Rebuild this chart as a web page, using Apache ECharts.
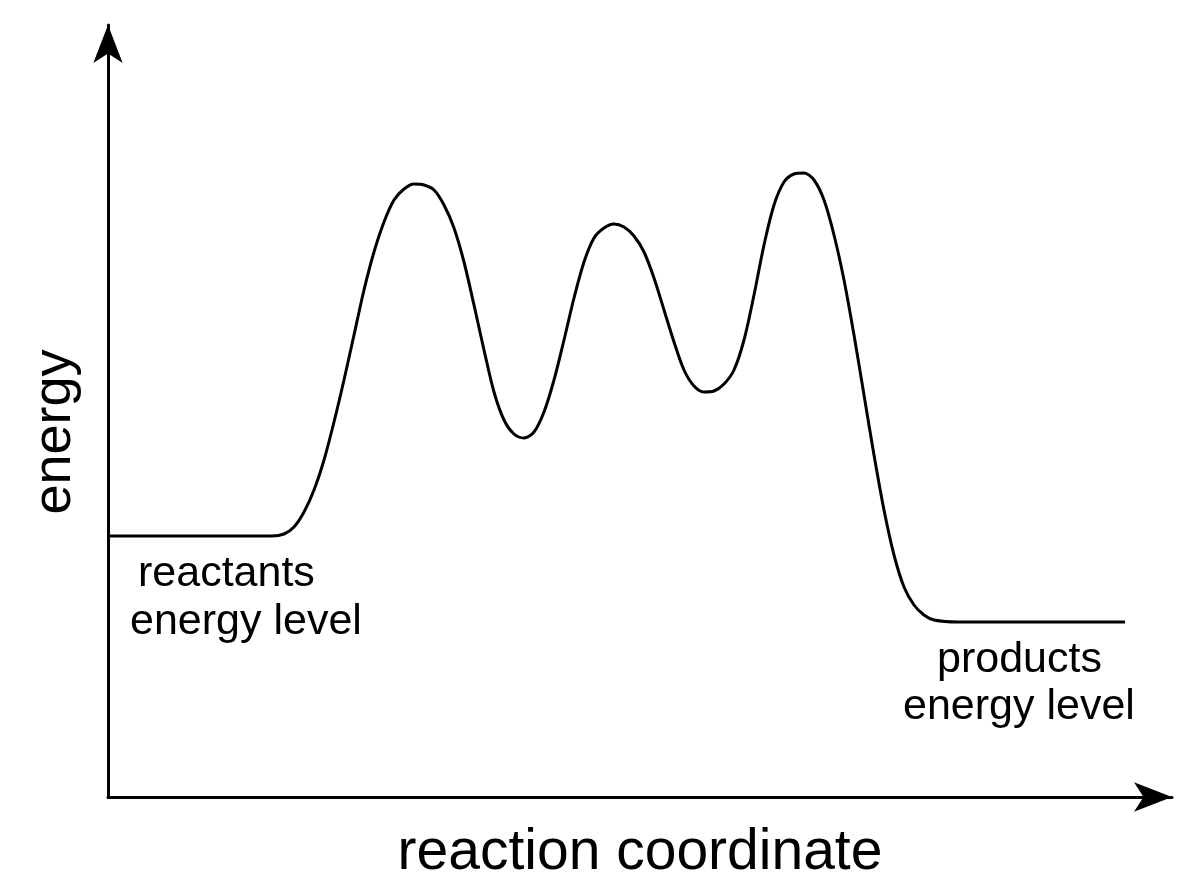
<!DOCTYPE html>
<html>
<head>
<meta charset="utf-8">
<script src="https://cdn.jsdelivr.net/npm/echarts@6/dist/echarts.min.js"></script>
<style>html,body{margin:0;padding:0;background:#fff}#main{width:1200px;height:896px}</style>
</head>
<body>
<div id="main"></div>
<script>
// reaction coordinate (x) and energy (y)
var coord = [2, 164, 176, 186, 196, 206, 216, 226, 236, 246, 256, 266, 276, 286, 296, 306, 316, 326, 336, 346,
    356, 366, 376, 386, 396, 406, 416, 426, 436, 446, 456, 466, 476, 486, 496, 506, 516, 526, 536, 546,
    556, 566, 576, 586, 596, 606, 616, 626, 636, 646, 656, 666, 676, 686, 696, 706, 716, 726, 736, 746,
    756, 766, 776, 786, 796, 806, 816, 826, 850, 1017];
var energy = [261, 261, 263, 270, 285, 307, 337, 375, 417, 462, 507, 545, 575, 597, 608, 613, 612, 607, 592, 569,
    535, 492, 447, 405, 377, 363, 359, 365, 385, 417, 457, 499, 535, 559, 569, 573, 570, 561, 545, 519,
    487, 455, 427, 411, 405, 406, 413, 427, 457, 502, 552, 592, 615, 623, 624, 617, 597, 562, 517, 462,
    402, 342, 287, 242, 210, 192, 182, 177, 175, 175];

var pts = coord.map(function (c, i) { return [c, energy[i]]; });
var font = 'Liberation Sans, Arial, sans-serif';

var myChart = echarts.init(document.getElementById('main'));
var option = {
    animation: false,
    grid: {left: 108, right: 28, top: 25, bottom: 99},
    xAxis: {
        type: 'value', min: 0, max: 1064,
        axisLine: {show: true, symbol: ['none', 'arrow'], symbolSize: [22, 38], lineStyle: {color: '#000', width: 3}},
        axisTick: {show: false}, axisLabel: {show: false}, splitLine: {show: false},
        name: 'reaction coordinate', nameLocation: 'middle', nameGap: 28,
        nameTextStyle: {fontSize: 57, color: '#000', fontFamily: font, verticalAlign: 'top'}
    },
    yAxis: {
        type: 'value', min: 0, max: 772,
        axisLine: {show: true, symbol: ['none', 'arrow'], symbolSize: [22, 38], lineStyle: {color: '#000', width: 3}},
        axisTick: {show: false}, axisLabel: {show: false}, splitLine: {show: false}
    },
    series: [{
        type: 'line', data: pts, smooth: 0.3, showSymbol: false,
        lineStyle: {color: '#000', width: 3}
    }],
    graphic: [
        {type: 'text', x: 55, y: 432, rotation: Math.PI / 2,
            style: {text: 'energy', fontSize: 54, fill: '#000', fontFamily: font, align: 'center', verticalAlign: 'middle'}},
        {type: 'text', left: 138, top: 553, style: {text: 'reactants', fontSize: 43, fill: '#000', fontFamily: font}},
        {type: 'text', left: 130, top: 601, style: {text: 'energy level', fontSize: 43, fill: '#000', fontFamily: font}},
        {type: 'text', left: 937, top: 639, style: {text: 'products', fontSize: 43, fill: '#000', fontFamily: font}},
        {type: 'text', left: 903, top: 686, style: {text: 'energy level', fontSize: 43, fill: '#000', fontFamily: font}}
    ]
};
myChart.setOption(option);
</script>
</body>
</html>
